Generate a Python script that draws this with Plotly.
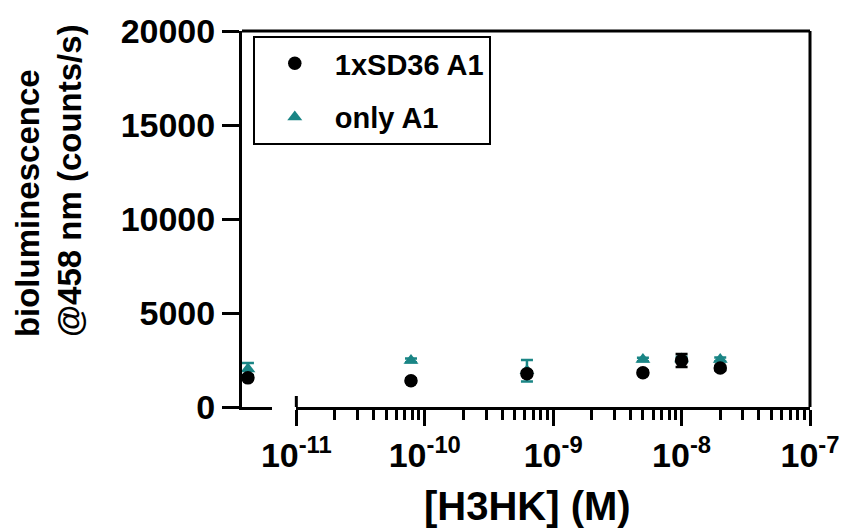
import plotly.graph_objects as go

# H3HK concentrations (M) on the log segment; the blank (0 M) sits on its own short segment
conc = [7.8125e-11, 6.25e-10, 5e-9, 1e-8, 2e-8]

# 1xSD36 A1: mean and SD of bioluminescence @458 nm (counts/s)
sd36_blank_mean = [1550]
sd36_blank_sd = [120]
sd36_mean = [1400, 1775, 1825, 2470, 2070]
sd36_sd = [110, 130, 120, 345, 110]

# only A1
a1_blank_mean = [2020]
a1_blank_sd = [320]
a1_mean = [2480, 1925, 2530, 2550, 2530]
a1_sd = [100, 570, 90, 120, 100]

tick_vals = [1e-11, 1e-10, 1e-9, 1e-8, 1e-7]
tick_text = ["10<sup>-11</sup>", "10<sup>-10</sup>", "10<sup>-9</sup>",
             "10<sup>-8</sup>", "10<sup>-7</sup>"]
minor_vals = [k * 10.0 ** e for e in range(-11, -7) for k in range(2, 10)]

y_ticks = [0, 5000, 10000, 15000, 20000]
y_tick_text = ["0", "5000", "10000", "15000", "20000"]

TEAL = "#1a8585"
FONT = "Liberation Sans, Arial, Helvetica, sans-serif"

fig = go.Figure()

# only A1 (drawn first so the black circles sit on top)
fig.add_trace(go.Scatter(
    x=[0], y=a1_blank_mean, xaxis="x", yaxis="y", mode="markers",
    marker=dict(symbol="triangle-up", size=13, color=TEAL),
    error_y=dict(type="data", array=a1_blank_sd, color=TEAL, thickness=2.5, width=6),
    name="only A1", legendgroup="a1", showlegend=False, cliponaxis=False))
fig.add_trace(go.Scatter(
    x=conc, y=a1_mean, xaxis="x2", yaxis="y", mode="markers",
    marker=dict(symbol="triangle-up", size=13, color=TEAL),
    error_y=dict(type="data", array=a1_sd, color=TEAL, thickness=2.5, width=6),
    name="only A1", legendgroup="a1", legendrank=2, cliponaxis=False))

# 1xSD36 A1
fig.add_trace(go.Scatter(
    x=[0], y=sd36_blank_mean, xaxis="x", yaxis="y", mode="markers",
    marker=dict(symbol="circle", size=13.5, color="black"),
    error_y=dict(type="data", array=sd36_blank_sd, color="black", thickness=2.5, width=6),
    name="1xSD36 A1", legendgroup="sd36", showlegend=False, cliponaxis=False))
fig.add_trace(go.Scatter(
    x=conc, y=sd36_mean, xaxis="x2", yaxis="y", mode="markers",
    marker=dict(symbol="circle", size=13.5, color="black"),
    error_y=dict(type="data", array=sd36_sd, color="black", thickness=2.5, width=6),
    name="1xSD36 A1", legendgroup="sd36", legendrank=1, cliponaxis=False))

axis_line = dict(showline=True, linecolor="black", linewidth=3,
                 showgrid=False, zeroline=False)

fig.update_layout(
    width=852, height=532,
    margin=dict(l=242, r=35, t=23, b=125),
    paper_bgcolor="white", plot_bgcolor="white",
    font=dict(family=FONT, color="black", weight="bold"),
    xaxis=dict(domain=[0, 30 / 575], range=[-0.2, 0.8], anchor="y",
               showticklabels=False, ticks="", **axis_line),
    xaxis2=dict(domain=[55 / 575, 1], type="log", range=[-11, -7], anchor="y",
                tickmode="array", tickvals=tick_vals, ticktext=tick_text,
                ticks="outside", ticklen=16, tickwidth=3, tickcolor="black",
                tickfont=dict(size=34, family=FONT, weight="bold"),
                minor=dict(tickmode="array", tickvals=minor_vals, ticks="outside",
                           ticklen=10, tickwidth=2.5, tickcolor="black", showgrid=False),
                **axis_line),
    yaxis=dict(range=[0, 20000], anchor="x", tickmode="array", tickvals=y_ticks,
               ticktext=y_tick_text,
               ticks="outside", ticklen=17, tickwidth=3, tickcolor="black",
               tickfont=dict(size=34, family=FONT, weight="bold"),
               **axis_line),
    legend=dict(x=0.019, y=0.987, xanchor="left", yanchor="top",
                bgcolor="white", bordercolor="black", borderwidth=2,
                font=dict(size=29, family=FONT, weight="bold"),
                tracegroupgap=13, itemwidth=70),
    showlegend=True,
)

# plot frame (top and right edges) and the axis-break end cap
fig.add_shape(type="line", xref="paper", yref="paper", x0=0, x1=1, y0=1, y1=1,
              line=dict(color="black", width=3))
fig.add_shape(type="line", xref="paper", yref="paper", x0=1, x1=1, y0=0, y1=1,
              line=dict(color="black", width=3))
fig.add_shape(type="line", xref="x2 domain", x0=0, x1=0, yref="y", ysizemode="pixel",
              yanchor=0, y0=-11, y1=11, line=dict(color="black", width=3))

# axis titles
fig.add_annotation(text="bioluminescence<br>@458 nm (counts/s)", xref="paper", yref="paper",
                   x=-0.341, y=0.6016, xanchor="center", yanchor="middle",
                   textangle=-90, align="left", showarrow=False,
                   font=dict(size=33, family=FONT, weight="bold"))
fig.add_annotation(text="[H3HK] (M)", xref="paper", yref="paper",
                   x=0.5026, y=-0.263, xanchor="center", yanchor="middle",
                   showarrow=False, font=dict(size=40, family=FONT, weight="bold"))

fig.write_html("out.html")
